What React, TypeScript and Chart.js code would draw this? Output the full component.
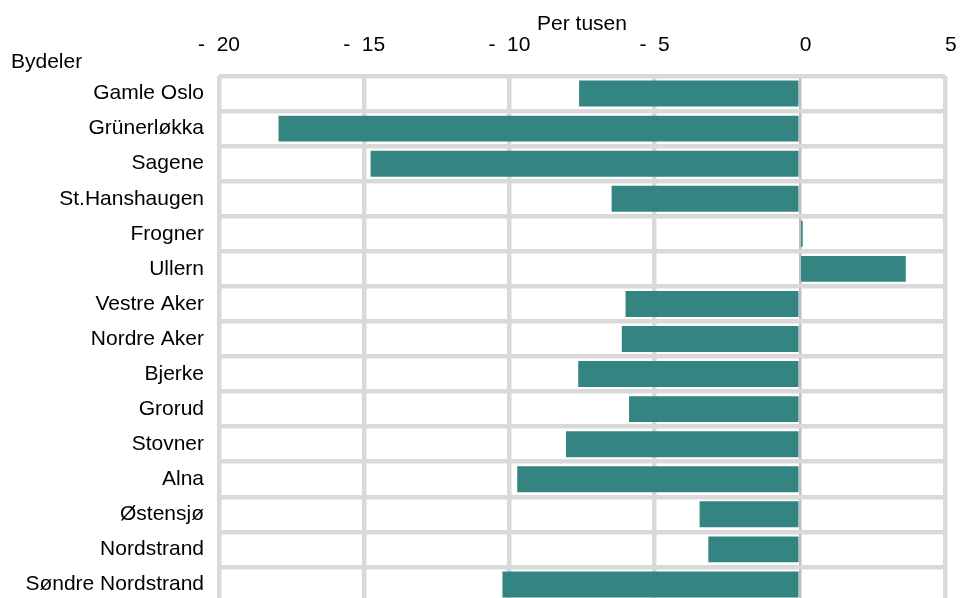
import React, { useEffect, useRef } from "react";
import { Chart, registerables } from "chart.js";

Chart.register(...registerables);

const categories = [
  "Gamle Oslo",
  "Grünerløkka",
  "Sagene",
  "St.Hanshaugen",
  "Frogner",
  "Ullern",
  "Vestre Aker",
  "Nordre Aker",
  "Bjerke",
  "Grorud",
  "Stovner",
  "Alna",
  "Østensjø",
  "Nordstrand",
  "Søndre Nordstrand",
];

const values = [
  -7.6, -17.95, -14.78, -6.48, 0.1, 3.65, -6.0, -6.13, -7.63, -5.88, -8.05, -9.73, -3.45, -3.15, -10.24,
];

const xMin = -20;
const xMax = 5;
const xStep = 5;
const xTitle = "Per tusen";
const yTitle = "Bydeler";

const FONT = "'Liberation Sans', Arial, Helvetica, sans-serif";

function formatTick(v: number): string {
  if (v < 0) return "-  " + Math.abs(v);
  return "  " + v;
}

const yTitlePlugin = {
  id: "yTitlePlugin",
  afterDraw(chart: any) {
    const ctx = chart.ctx;
    ctx.save();
    ctx.font = `21px ${FONT}`;
    ctx.fillStyle = "#000";
    ctx.textAlign = "left";
    ctx.textBaseline = "alphabetic";
    ctx.fillText(yTitle, 11, 68);
    ctx.restore();
  },
};

export default function App() {
  const ref = useRef<HTMLCanvasElement | null>(null);

  useEffect(() => {
    if (!ref.current) return;
    const chart = new Chart(ref.current, {
      type: "bar",
      data: {
        labels: categories,
        datasets: [
          {
            data: values,
            backgroundColor: "#348481",
            borderWidth: 0,
            categoryPercentage: 1,
            barPercentage: 0.74,
          },
        ],
      },
      plugins: [yTitlePlugin],
      options: {
        indexAxis: "y",
        animation: false,
        responsive: false,
        layout: { padding: { left: 0, right: 17, top: 0, bottom: 4 } },
        plugins: {
          legend: { display: false },
          tooltip: { enabled: false },
        },
        scales: {
          x: {
            position: "top",
            min: xMin,
            max: xMax,
            afterFit: (s: any) => {
              s.paddingLeft = 0;
              s.paddingRight = 0;
              s.height = 76;
            },
            ticks: {
              stepSize: xStep,
              padding: 20,
              color: "#000",
              font: { family: FONT, size: 21, lineHeight: 1 },
              callback: (v: any) => formatTick(Number(v)),
              maxRotation: 0,
            },
            title: {
              display: true,
              text: xTitle,
              color: "#000",
              font: { family: FONT, size: 21, lineHeight: 1 },
              padding: { top: 14, bottom: 0 },
            },
            grid: {
              drawTicks: false,
              color: (c: any) => (c.tick && c.tick.value === 0 ? "#bfbfbf" : "#d9d9d9"),
              lineWidth: (c: any) => (c.tick && c.tick.value === 0 ? 2.5 : 4.5),
            },
            border: { display: false },
          },
          y: {
            afterFit: (s: any) => {
              s.width = 219;
              s.paddingTop = 0;
              s.paddingBottom = 0;
            },
            ticks: {
              padding: 15,
              color: "#000",
              font: { family: FONT, size: 21, lineHeight: 1 },
            },
            grid: {
              offset: true,
              drawTicks: false,
              color: "#d9d9d9",
              lineWidth: 4.5,
            },
            border: { display: false },
          },
        },
      },
    });
    return () => chart.destroy();
  }, []);

  return (
    <div style={{ position: "fixed", left: 0, top: 0, width: 962, height: 606, background: "#fff" }}>
      <canvas ref={ref} width={962} height={606} style={{ display: "block" }} />
    </div>
  );
}
